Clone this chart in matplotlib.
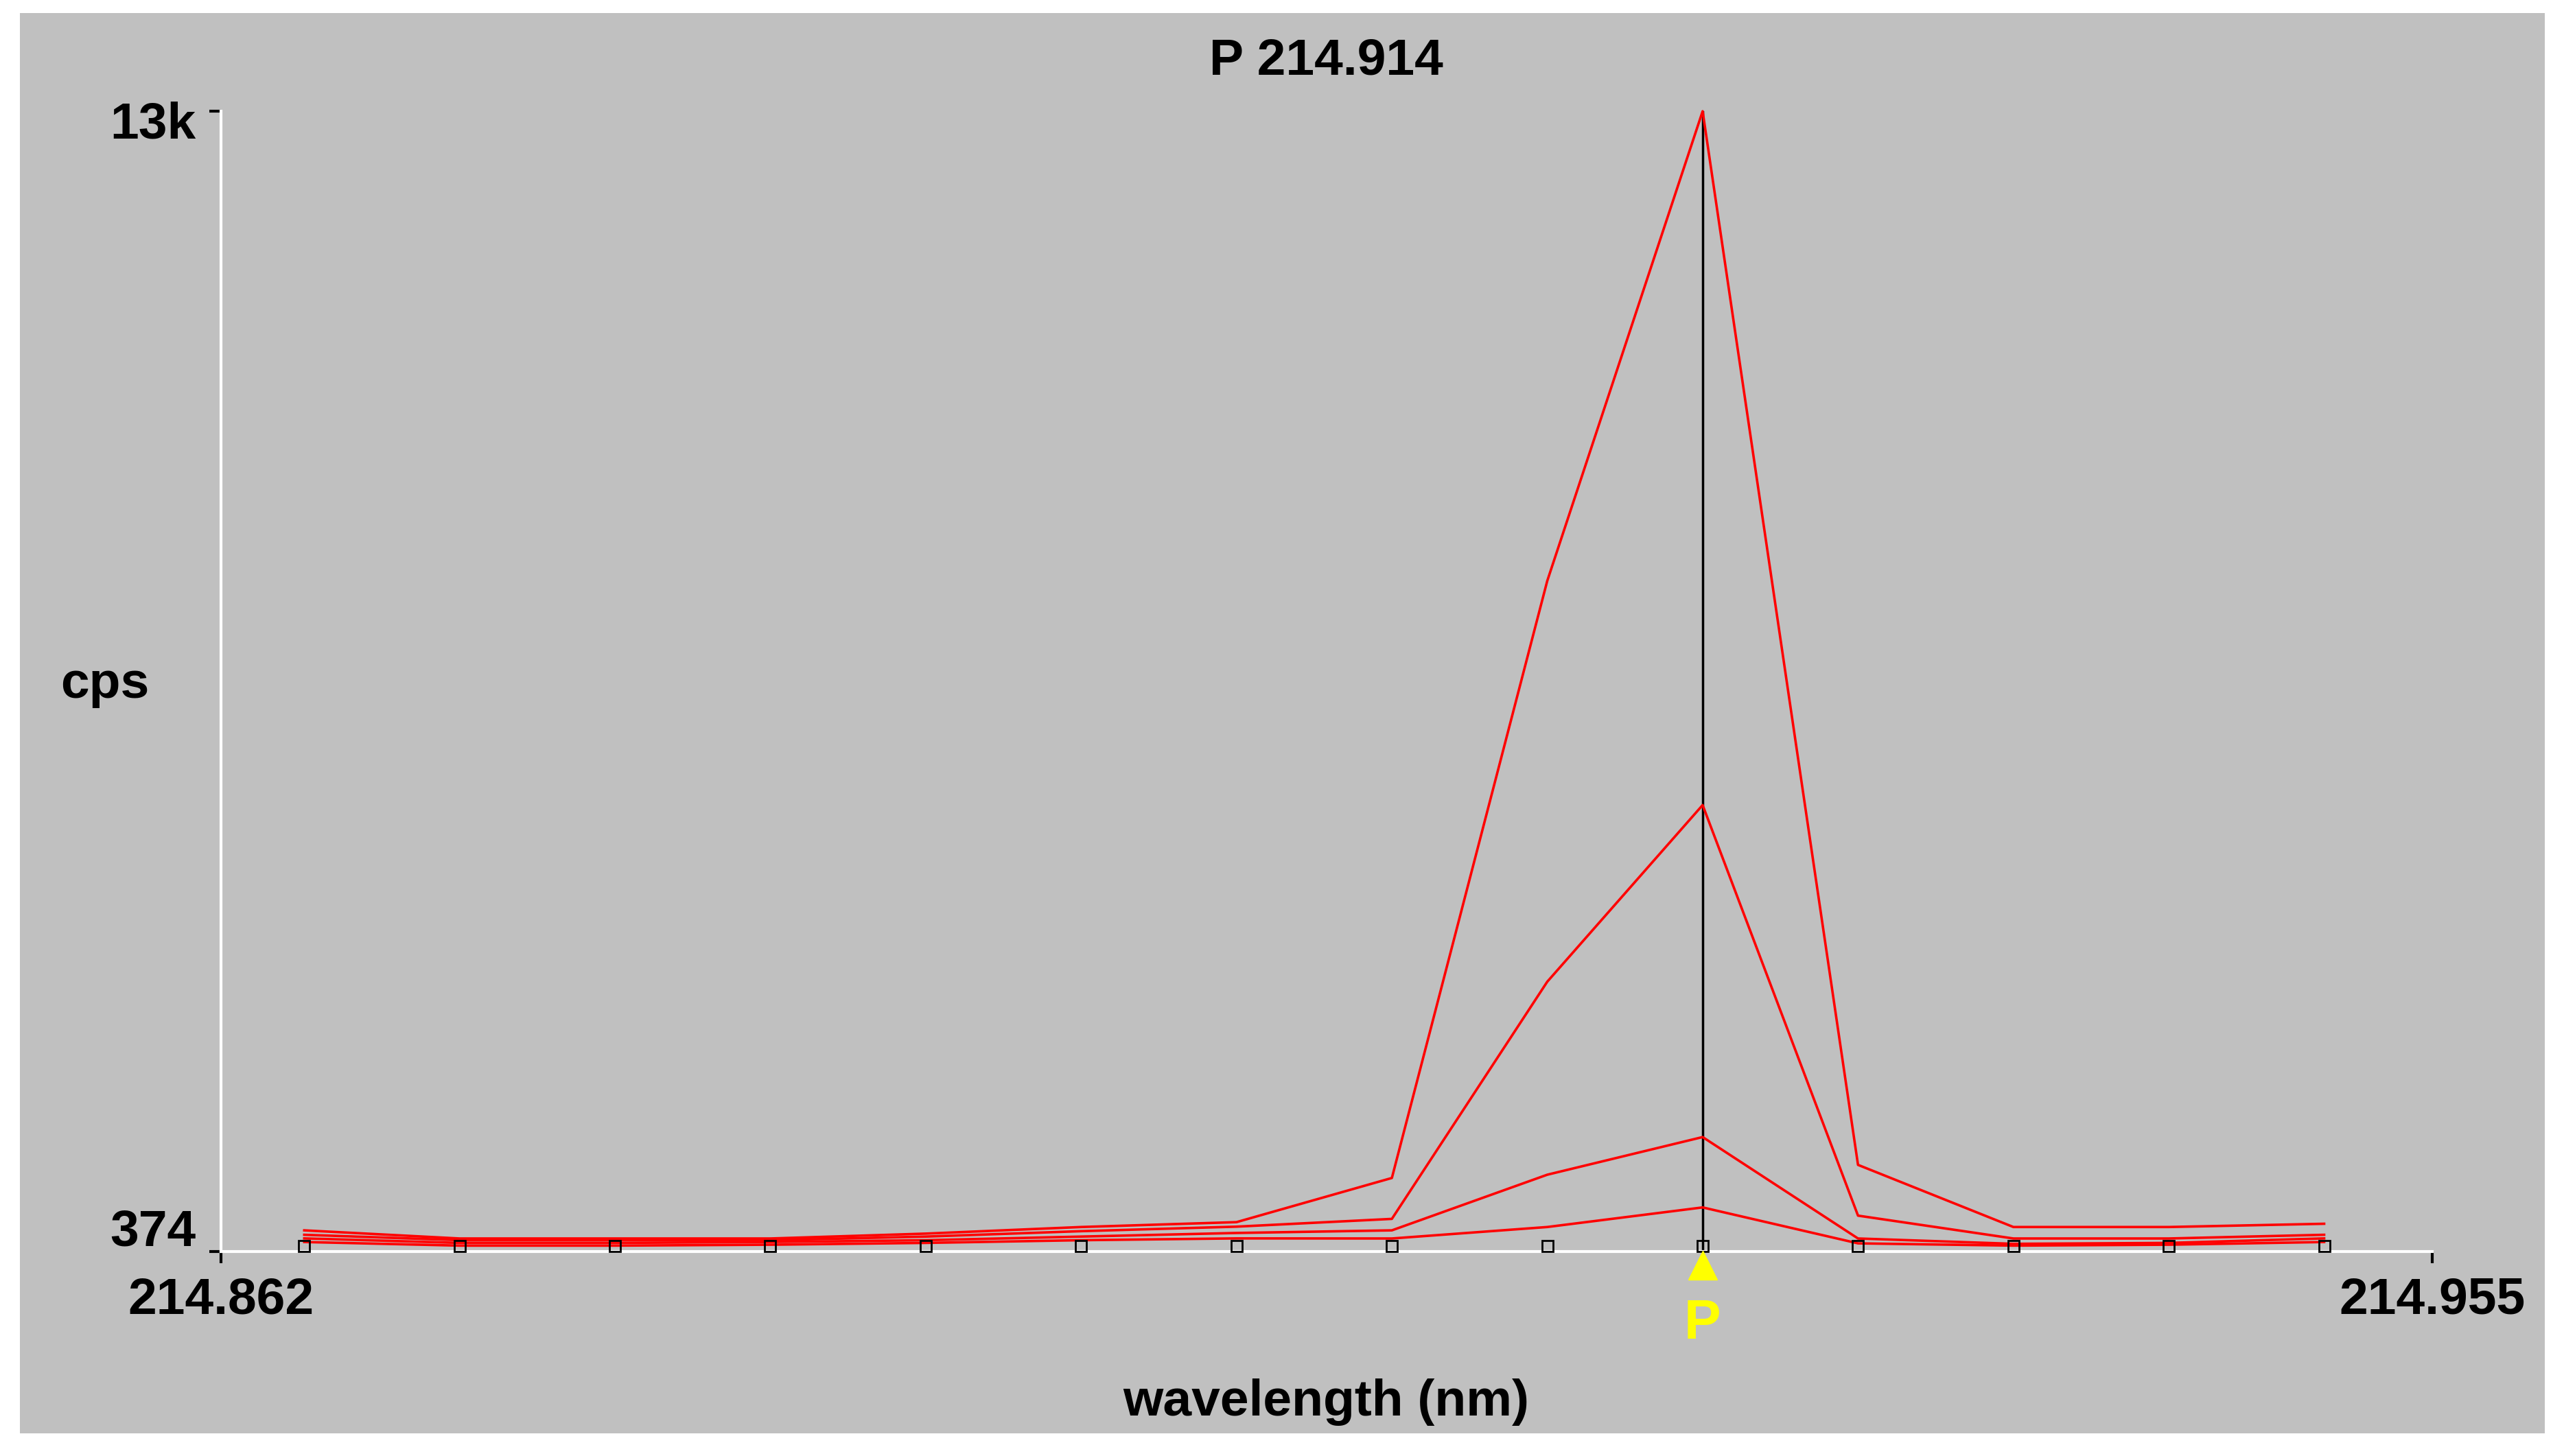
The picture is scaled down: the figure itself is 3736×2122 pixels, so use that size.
import matplotlib
matplotlib.use("Agg")
import matplotlib.pyplot as plt
from matplotlib.patches import Rectangle
from matplotlib.transforms import offset_copy

title = "P 214.914"
peak_wl = 214.914
step = 0.00225
n_points = 14
peak_index = 9
wavelengths = [peak_wl + (i - peak_index) * step for i in range(n_points)]
x_tick_labels = ["214.862", "214.955"]
y_tick_labels = ["374", "13k"]
y_min, y_max = 374, 13000

s1 = [609, 519, 519, 519, 573, 646, 700, 1189, 7800, 13000, 1334, 646, 646, 682]
s2 = [560, 500, 500, 500, 540, 600, 650, 736, 3362, 5318, 772, 519, 519, 560]
s3 = [520, 470, 470, 480, 500, 540, 580, 609, 1225, 1642, 519, 460, 470, 520]
s4 = [480, 440, 440, 450, 470, 500, 520, 519, 646, 863, 465, 440, 450, 480]
series = [s1, s2, s3, s4]

fig = plt.figure(figsize=(37.37, 21.22), dpi=100)
fig.patch.set_facecolor("white")
fig.add_artist(Rectangle((0.0077, 0.0157), 0.9846, 0.9753, transform=fig.transFigure,
                         facecolor="#c0c0c0", edgecolor="none", zorder=0))
ax = fig.add_axes([0.0861, 0.1404, 0.8622, 0.7832])
ax.set_facecolor("#c0c0c0")
ax.patch.set_alpha(0)

x_left = peak_wl - (1041 - 135) / 95 * step
x_right = peak_wl + (1487 - 1041) / 95 * step
ax.set_xlim(x_left, x_right)
ax.set_ylim(y_min, y_max)

for s in series:
    ax.plot(wavelengths, s, color="#ff0000", lw=2.6, zorder=3, clip_on=False)
ax.plot(wavelengths, [y_min + 60] * n_points, ls="none", marker="s", ms=12,
        mfc="none", mec="black", mew=2, zorder=4, clip_on=False)
ax.axvline(peak_wl, color="black", lw=2.5, zorder=2)

for sp in ["top", "right"]:
    ax.spines[sp].set_visible(False)
for sp in ["left", "bottom"]:
    ax.spines[sp].set_color("white")
    ax.spines[sp].set_linewidth(3)

font = dict(family="Liberation Sans", weight="bold")
ax.set_xticks([x_left, x_right])
ax.set_xticklabels(x_tick_labels, fontsize=54, **font)
ax.set_yticks([y_min, y_max])
ax.set_yticklabels(y_tick_labels, fontsize=54, **font)
ax.tick_params(axis="x", colors="black", length=12, width=3, pad=14)
ax.tick_params(axis="y", colors="black", length=12, width=3, pad=14)
for t in ax.get_yticklabels():
    t.set_verticalalignment("center")
lab374 = ax.get_yticklabels()[0]
lab374.set_transform(offset_copy(lab374.get_transform(), fig=fig, x=0, y=20, units="points"))
lab13k = ax.get_yticklabels()[1]
lab13k.set_transform(offset_copy(lab13k.get_transform(), fig=fig, x=0, y=-14, units="points"))

fig.text(0.517, 0.958, title, ha="center", va="center", fontsize=54, **font)
fig.text(0.041, 0.53, "cps", ha="center", va="center", fontsize=54, **font)
fig.text(0.517, 0.037, "wavelength (nm)", ha="center", va="center", fontsize=54, **font)

ax.annotate("", xy=(peak_wl, y_min), xytext=(0, -18), textcoords="offset points")
ax.plot([peak_wl], [y_min], marker="^", ms=30, color="yellow", clip_on=False, zorder=5,
        transform=offset_copy(ax.transData, fig=fig, x=0, y=-14, units="points"))
ax.annotate("P", xy=(peak_wl, y_min), xytext=(0, -76), textcoords="offset points",
            ha="center", va="center", color="yellow", fontsize=58, **font)

fig.savefig("out.png", dpi=100)
